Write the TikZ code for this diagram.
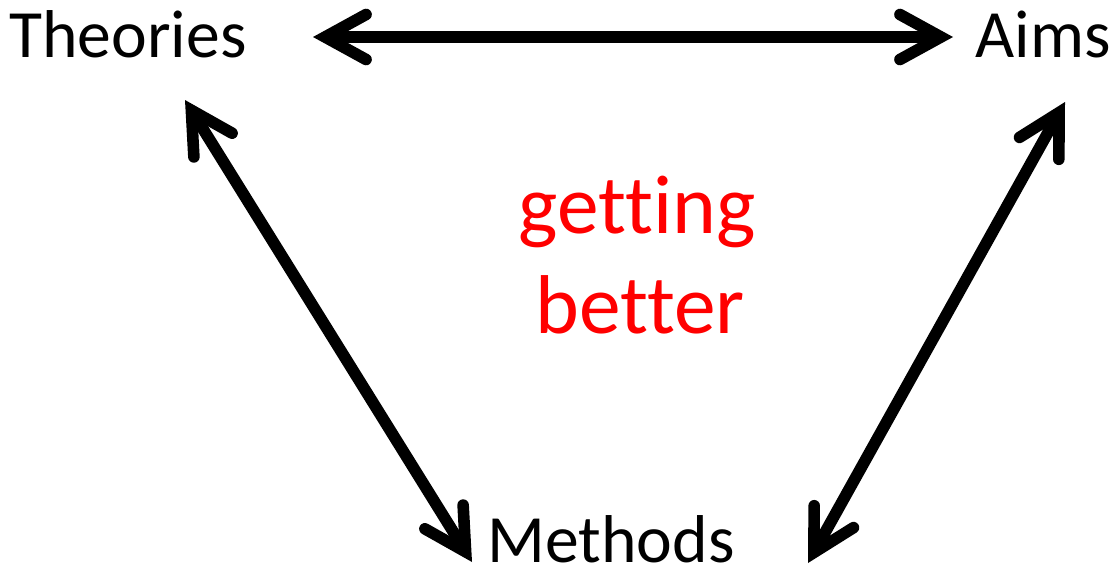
\documentclass[tikz,border=0pt]{standalone}
\usepackage{fontspec}
\setmainfont{Carlito}[Ligatures=NoCommon]
\usetikzlibrary{arrows.meta}

\tikzset{
  corner/.style={font=\fontsize{38.5}{46}\selectfont, anchor=base, inner sep=0pt},
  idea/.style={text=red, font=\fontsize{47.5}{57}\selectfont, anchor=base, inner sep=0pt},
  barb/.tip={Straight Barb[length=0.82cm, width=0.9cm, line cap=round, line join=miter]},
  link/.style={line width=6.6pt, barb-barb}
}

\begin{document}
\begin{tikzpicture}[x=0.02cm, y=-0.02cm]
        \useasboundingbox (0,0) rectangle (1111,569);

        % Ecken
        \node[corner] (theories) at (128,57) {Theories};
        \node[corner] (aims) at (1043,57) {Aims};
        \node[corner] (methods) at (611,562) {Methods};

        % Mitte
        \node[idea] (getting) at (637,233) {getting};
        \node[idea] (better) at (640,333) {better};

        % Pfeilenden
        \coordinate (th-r) at (313,37);
        \coordinate (ai-l) at (953,37);
        \coordinate (th-b) at (185,100);
        \coordinate (me-l) at (472,562);
        \coordinate (ai-b) at (1065,102);
        \coordinate (me-r) at (808,563);

        % Pfeile
        \draw[link] (th-r) -- (ai-l);
        \draw[link] (th-b) -- (me-l);
        \draw[link] (ai-b) -- (me-r);
    \end{tikzpicture}
\end{document}
